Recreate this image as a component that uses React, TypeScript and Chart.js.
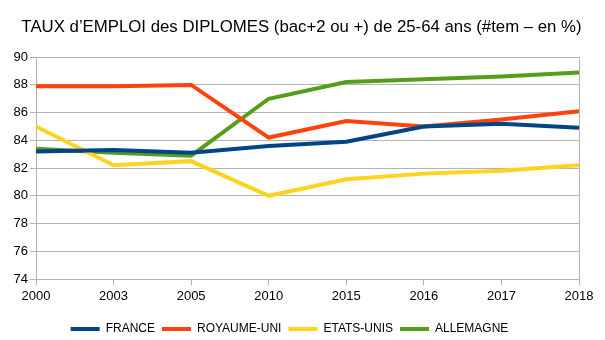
import React, { useEffect, useRef } from "react";
import { Chart, registerables } from "chart.js";

Chart.register(...registerables);

const years = ["2000", "2003", "2005", "2010", "2015", "2016", "2017", "2018"];
const france = [83.2, 83.3, 83.1, 83.6, 83.9, 85.0, 85.2, 84.9];
const royaumeUni = [87.9, 87.9, 88.0, 84.2, 85.4, 85.0, 85.5, 86.1];
const etatsUnis = [85.0, 82.2, 82.5, 80.0, 81.2, 81.6, 81.8, 82.2];
const allemagne = [83.4, 83.1, 82.9, 87.0, 88.2, 88.4, 88.6, 88.9];
const titleText = "TAUX d\u2019EMPLOI des DIPLOMES (bac+2 ou +) de 25-64 ans (#tem \u2013 en %)";

const FONT = "'Liberation Sans', Arial, sans-serif";
const GRID = "#b3b3b3";

const titleCenterPlugin = {
  id: "titleCenter",
  afterLayout(chart: any) {
    if (chart.titleBlock) {
      chart.titleBlock.left = 0;
      chart.titleBlock.right = chart.width - 2;
    }
  },
};

export default function App() {
  const ref = useRef<HTMLCanvasElement>(null);
  useEffect(() => {
    document.body.style.margin = "0";
    const mk = (label: string, data: number[], color: string) => ({
      label,
      data,
      borderColor: color,
      backgroundColor: color,
      borderWidth: 4,
      pointRadius: 0,
      tension: 0,
      fill: false,
    });
    const chart = new Chart(ref.current!, {
      type: "line",
      data: {
        labels: years,
        datasets: [
          mk("FRANCE", france, "#004586"),
          mk("ROYAUME-UNI", royaumeUni, "#ff420e"),
          mk("ETATS-UNIS", etatsUnis, "#ffd320"),
          mk("ALLEMAGNE", allemagne, "#579d1c"),
        ],
      },
      plugins: [titleCenterPlugin],
      options: {
        animation: false,
        responsive: false,
        maintainAspectRatio: false,
        layout: { padding: { left: 0, right: 26, top: 8, bottom: -5 } },
        plugins: {
          tooltip: { enabled: false },
          title: {
            display: true,
            text: titleText,
            color: "#000",
            font: { family: FONT, size: 16.8, weight: "normal" },
            padding: { top: 9, bottom: 20 },
          },
          legend: {
            position: "bottom",
            labels: {
              color: "#000",
              font: { family: FONT, size: 12 },
              boxWidth: 29,
              boxHeight: 4,
              padding: 7,
              generateLabels: (c: any) =>
                Chart.defaults.plugins.legend.labels
                  .generateLabels(c)
                  .map((l: any) => ({ ...l, lineWidth: 0 })),
            },
          },
        },
        scales: {
          x: {
            grid: {
              color: (c: any) => (c.index === years.length - 1 ? GRID : "rgba(0,0,0,0)"),
              tickColor: GRID,
              tickLength: 6,
              lineWidth: 1,
            },
            border: { color: GRID },
            ticks: {
              color: "#000",
              font: { family: FONT, size: 13 },
              padding: 4,
              maxRotation: 0,
              autoSkip: false,
            },
            afterFit: (s: any) => {
              s.height = 37;
            },
          },
          y: {
            min: 74,
            max: 90,
            grid: { color: GRID, tickColor: GRID, tickLength: 6 },
            border: { color: GRID },
            ticks: {
              stepSize: 2,
              color: "#000",
              font: { family: FONT, size: 13 },
              padding: 2,
            },
            afterFit: (s: any) => {
              s.width = 36;
            },
          },
        },
      },
    });
    return () => chart.destroy();
  }, []);
  return <canvas ref={ref} width={605} height={340} style={{ display: "block" }} />;
}
